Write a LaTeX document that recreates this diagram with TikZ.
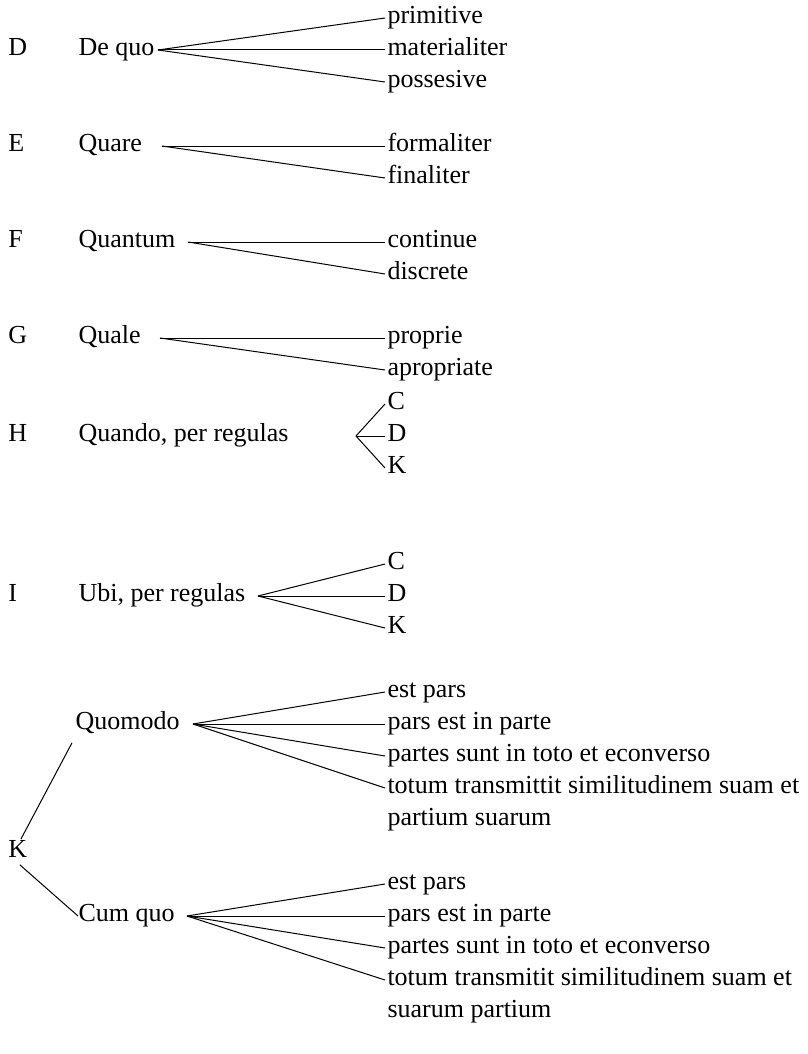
\documentclass[tikz,border=0pt]{standalone}
\usepackage{fontspec}
\setmainfont{Liberation Serif}
\begin{document}
\fontsize{26}{32}\selectfont
\begin{tikzpicture}[x=1pt,y=-1pt,line width=1pt,
  lbl/.style={anchor=west, inner sep=0pt, text height=0.7em, text depth=0.25em},
  leaf/.style={lbl, inner xsep=2pt}]
\useasboundingbox (0,0) rectangle (807,1054);
\node[lbl] (d) at (8,50){D};
\node[lbl] (dequo) at (78,50){De quo};
\coordinate (dequoX) at (158,50);
\node[leaf] (dequo1) at (385,18){primitive};
\node[leaf] (dequo2) at (385,50){materialiter};
\node[leaf] (dequo3) at (385,82){possesive};
\draw[](dequoX) -- (dequo1.west);
\draw[](dequoX) -- (dequo2.west);
\draw[](dequoX) -- (dequo3.west);
\node[lbl] (e) at (8,146){E};
\node[lbl] (quare) at (78,146){Quare};
\coordinate (quareX) at (162,146);
\node[leaf] (quare1) at (385,146){formaliter};
\node[leaf] (quare2) at (385,178){finaliter};
\draw[](quareX) -- (quare1.west);
\draw[](quareX) -- (quare2.west);
\node[lbl] (f) at (8,242){F};
\node[lbl] (quantum) at (78,242){Quantum};
\coordinate (quantumX) at (188,242);
\node[leaf] (quantum1) at (385,242){continue};
\node[leaf] (quantum2) at (385,274){discrete};
\draw[](quantumX) -- (quantum1.west);
\draw[](quantumX) -- (quantum2.west);
\node[lbl] (g) at (8,338){G};
\node[lbl] (quale) at (78,338){Quale};
\coordinate (qualeX) at (160,338);
\node[leaf] (quale1) at (385,338){proprie};
\node[leaf] (quale2) at (385,370){apropriate};
\draw[](qualeX) -- (quale1.west);
\draw[](qualeX) -- (quale2.west);
\node[lbl] (h) at (8,436){H};
\node[lbl] (quando) at (78,436){Quando, per regulas};
\coordinate (quandoX) at (356,436);
\node[leaf] (quando1) at (385,404){C};
\node[leaf] (quando2) at (385,436){D};
\node[leaf] (quando3) at (385,468){K};
\draw[](quandoX) -- (quando1.west);
\draw[](quandoX) -- (quando2.west);
\draw[](quandoX) -- (quando3.west);
\node[lbl] (i) at (8,596){I};
\node[lbl] (ubi) at (78,596){Ubi, per regulas};
\coordinate (ubiX) at (258,596);
\node[leaf] (ubi1) at (385,564){C};
\node[leaf] (ubi2) at (385,596){D};
\node[leaf] (ubi3) at (385,628){K};
\draw[](ubiX) -- (ubi1.west);
\draw[](ubiX) -- (ubi2.west);
\draw[](ubiX) -- (ubi3.west);
\node[lbl] (quomodo) at (75,724){Quomodo};
\coordinate (quomodoX) at (193,724);
\node[leaf] (quomodo1) at (385,692){est pars};
\node[leaf] (quomodo2) at (385,724){pars est in parte};
\node[leaf] (quomodo3) at (385,756){partes sunt in toto et econverso};
\node[leaf] (quomodo4) at (385,788){totum transmittit similitudinem suam et};
\node[leaf] (quomodo5) at (385,820){partium suarum};
\draw[](quomodoX) -- (quomodo1.west);
\draw[](quomodoX) -- (quomodo2.west);
\draw[](quomodoX) -- (quomodo3.west);
\draw[](quomodoX) -- (quomodo4.west);
\node[lbl] (k) at (8,852){K};
\node[lbl] (cumquo) at (78,916){Cum quo};
\coordinate (cumquoX) at (187,916);
\node[leaf] (cumquo1) at (385,884){est pars};
\node[leaf] (cumquo2) at (385,916){pars est in parte};
\node[leaf] (cumquo3) at (385,948){partes sunt in toto et econverso};
\node[leaf] (cumquo4) at (385,980){totum transmitit similitudinem suam et};
\node[leaf] (cumquo5) at (385,1012){suarum partium};
\draw[](cumquoX) -- (cumquo1.west);
\draw[](cumquoX) -- (cumquo2.west);
\draw[](cumquoX) -- (cumquo3.west);
\draw[](cumquoX) -- (cumquo4.west);
\draw[]([xshift=3pt]k.north) -- ([xshift=-3pt,yshift=-6pt]quomodo.south west);
\draw[]([xshift=2pt]k.south) -- (cumquo.west);
\end{tikzpicture}
\end{document}
